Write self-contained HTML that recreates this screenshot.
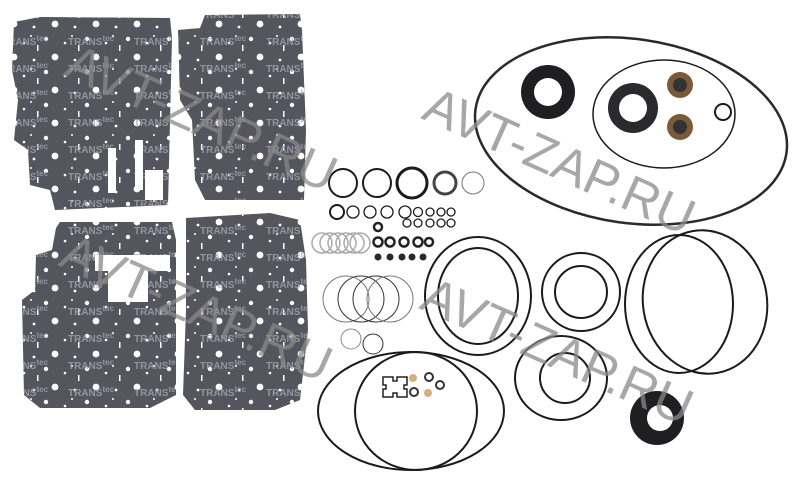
<!DOCTYPE html>
<html><head><meta charset="utf-8"><style>
html,body{margin:0;padding:0;background:#fff;}
svg{display:block;}
</style></head><body>
<svg width="800" height="479" viewBox="0 0 800 479" xmlns="http://www.w3.org/2000/svg">
<defs>
<pattern id="hp" width="41" height="33" patternUnits="userSpaceOnUse">
<rect width="41" height="33" fill="#55555e"/>
<circle cx="5" cy="6" r="2.2" fill="#fff"/>
<circle cx="24" cy="10" r="1.3" fill="#fff"/>
<circle cx="14" cy="24" r="3.4" fill="#fff"/>
<circle cx="34" cy="27" r="1.4" fill="#fff"/>
<circle cx="31" cy="3" r="1" fill="#fff"/>
<rect x="37" y="12" width="1.5" height="6" fill="#fff"/>
</pattern>
<pattern id="lp" width="66" height="27" patternUnits="userSpaceOnUse">
<text x="2" y="18" font-family="Liberation Sans, sans-serif" font-weight="bold" font-size="10" fill="#a4a4b0" fill-opacity="0.8">TRANS<tspan dy="-4" font-size="8">tec</tspan></text>
</pattern>
<clipPath id="gc">
<path d="M14 22 L40 17 L170 18 L172 38 L168 205 L55 210 L50 190 L30 185 L28 150 L14 140 L18 100 L12 70 Z"/>
<path d="M178 30 L200 28 L205 15 L300 14 L302 30 L306 130 L304 200 L205 200 L195 180 L192 120 L180 100 Z"/>
<path d="M56 228 L60 222 L172 222 L176 240 L176 395 L150 408 L40 408 L24 395 L22 300 L35 290 L36 255 L52 250 Z"/>
<path d="M186 218 L270 213 L300 220 L306 260 L308 330 L300 400 L275 410 L195 410 L183 395 L186 310 Z"/>
</clipPath>
</defs>
<g clip-path="url(#gc)">
<rect x="0" y="0" width="320" height="420" fill="url(#hp)"/>
<rect x="0" y="0" width="320" height="420" fill="url(#lp)"/>
</g>
<g fill="#fff">
<rect x="95" y="255" width="75" height="16"/>
<rect x="108" y="262" width="40" height="40"/>
<rect x="108" y="148" width="8" height="45"/>
<rect x="135" y="140" width="8" height="50"/>
<rect x="145" y="170" width="18" height="30"/>
</g>

<g fill="none" stroke="#1b1b1b">
<ellipse cx="631" cy="131" rx="157" ry="92" stroke-width="2.5" stroke="#2a2a2e" transform="rotate(8 631 131)"/>
<ellipse cx="664" cy="114" rx="71" ry="54" stroke-width="1.5"/>
<circle cx="723" cy="112" r="8" stroke-width="2"/>
<g stroke-width="2">
<circle cx="343" cy="183" r="14"/><circle cx="377" cy="183" r="14"/><circle cx="412" cy="183" r="15" stroke-width="3"/><circle cx="445" cy="183" r="11" stroke="#444" stroke-width="3"/>
</g>
<circle cx="473" cy="183" r="11" stroke="#777" stroke-width="1"/>
<g stroke-width="1.3">
<circle cx="337" cy="212" r="7" stroke-width="2"/><circle cx="353" cy="212" r="6"/><circle cx="370" cy="212" r="6"/><circle cx="387" cy="212" r="6"/><circle cx="405" cy="212" r="6"/>
<circle cx="418" cy="212" r="4.5"/><circle cx="430" cy="212" r="4"/><circle cx="441" cy="212" r="4"/><circle cx="451" cy="212" r="4"/>
<circle cx="407" cy="223" r="4"/><circle cx="418" cy="223" r="4"/><circle cx="430" cy="223" r="4"/><circle cx="441" cy="223" r="4"/><circle cx="451" cy="223" r="4"/>
</g>
<g stroke="#aaa" stroke-width="1.5">
<circle cx="322" cy="243" r="10"/><circle cx="330" cy="243" r="10"/><circle cx="338" cy="243" r="10"/><circle cx="346" cy="243" r="10"/><circle cx="354" cy="243" r="10"/><circle cx="360" cy="243" r="10"/>
</g>
<g stroke="#222" stroke-width="2.5">
<circle cx="378" cy="227" r="4"/><circle cx="378" cy="242" r="4.5"/><circle cx="390" cy="242" r="4.5"/><circle cx="404" cy="242" r="4.5"/><circle cx="418" cy="242" r="4.5"/><circle cx="429" cy="242" r="4"/>
</g>
<g stroke="#333" stroke-width="1">
<circle cx="346" cy="299" r="23" stroke="#777"/><circle cx="361" cy="299" r="23"/><circle cx="376" cy="299" r="23"/><circle cx="390" cy="299" r="23" stroke="#777"/>
<circle cx="351" cy="339" r="10" stroke="#888"/><circle cx="373" cy="344" r="10"/>
</g>
<g stroke-width="2">
<ellipse cx="411" cy="411" rx="93" ry="59"/>
<ellipse cx="416" cy="411" rx="61" ry="59"/>
<ellipse cx="478" cy="296" rx="53" ry="59"/>
<ellipse cx="478" cy="296" rx="40" ry="48"/>
<circle cx="581" cy="292" r="39"/>
<circle cx="581" cy="292" r="26"/>
<ellipse cx="561" cy="378" rx="46" ry="42"/>
<circle cx="565" cy="378" r="25"/>
<ellipse cx="679" cy="304" rx="54" ry="69"/>
<ellipse cx="705" cy="302" rx="62" ry="72" transform="rotate(-10 705 302)"/>
</g>
</g>
<g fill="#2a2a2a">
<circle cx="378" cy="257" r="3.5"/><circle cx="390" cy="257" r="3.5"/><circle cx="402" cy="257" r="3.5"/><circle cx="412" cy="257" r="3.5"/><circle cx="423" cy="257" r="3.5"/>
</g>
<g>
<circle cx="548" cy="92" r="27" fill="#1f1f22"/><circle cx="548" cy="92" r="14" fill="#fff"/>
<circle cx="633" cy="108" r="25" fill="#2a2a2d"/><circle cx="633" cy="108" r="14" fill="#fff"/>
<circle cx="680" cy="85" r="13" fill="#7a5a38"/><circle cx="680" cy="85" r="7" fill="#333"/>
<circle cx="680" cy="127" r="13" fill="#7a5a38"/><circle cx="680" cy="127" r="7" fill="#333"/>
<circle cx="657" cy="418" r="27" fill="#1f1f22"/><circle cx="660" cy="418" r="13" fill="#fff"/>
</g>
<g fill="none" stroke="#222" stroke-width="1.5">
<path d="M383 377 h10 v4 h4 v-4 h10 v8 h-3 v4 h3 v8 h-10 v-4 h-4 v4 h-10 v-8 h3 v-4 h-3 Z"/>
</g>
<circle cx="413" cy="378" r="4" fill="#d4b07a"/><circle cx="429" cy="377" r="4" fill="#fff" stroke="#333" stroke-width="2"/><circle cx="440" cy="385" r="4" fill="#fff" stroke="#333" stroke-width="2"/><circle cx="414" cy="392" r="4" fill="#fff" stroke="#333" stroke-width="2"/><circle cx="428" cy="393" r="4" fill="#d4b07a"/>
<g font-family="Liberation Sans, sans-serif" font-size="51" fill="#8a8a8a" fill-opacity="0.75">
<text transform="translate(420,118) rotate(24)">AVT-ZAP.RU</text>
<text transform="translate(418,308) rotate(24)">AVT-ZAP.RU</text>
<text transform="translate(62,75) rotate(24)">AVT-ZAP.RU</text>
<text transform="translate(57,265) rotate(24)">AVT-ZAP.RU</text>
</g>
</svg>
</body></html>
